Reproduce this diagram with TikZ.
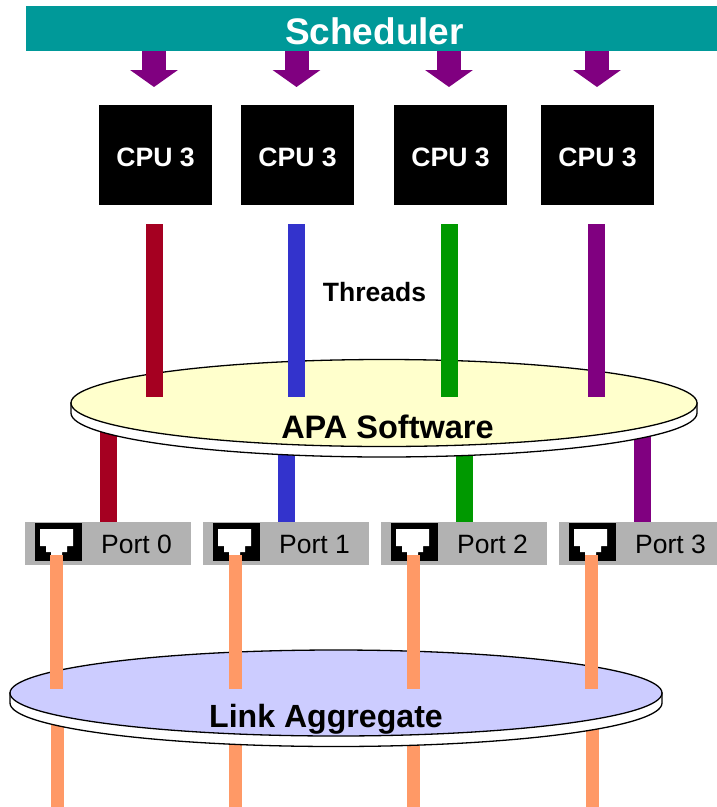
\documentclass[tikz,border=0pt]{standalone}
\usepackage{fontspec}
\setmainfont{Liberation Sans}
\usetikzlibrary{arrows.meta,calc}
\definecolor{teal1}{HTML}{009999}
\definecolor{purp}{HTML}{800080}
\definecolor{red1}{HTML}{A50021}
\definecolor{blue1}{HTML}{3333CC}
\definecolor{green1}{HTML}{009900}
\definecolor{orange1}{HTML}{FF9966}
\definecolor{gray1}{HTML}{B2B2B2}
\definecolor{yellow1}{HTML}{FFFFCC}
\definecolor{lav}{HTML}{CCCCFF}
\tikzset{
 cpu/.style={fill=black,text=white,minimum width=113pt,minimum height=100pt,inner sep=0pt,anchor=north west},
 cputext/.style={text=white,font=\bfseries\fontsize{26.6}{26.6}\selectfont,inner sep=0pt,anchor=base},
 port/.style={fill=gray1,minimum width=166pt,minimum height=43pt,inner sep=0pt,anchor=north west},
 portlabel/.style={font=\fontsize{26.5}{26.5}\selectfont,text=black,inner sep=0pt,anchor=base},
 bar/.style={line width=17pt},
 cable/.style={line width=13pt,orange1},
 sched/.style={draw=purp,line width=24pt,-{Triangle[length=17pt,width=47pt]},shorten >=0pt},
 disctext/.style={font=\bfseries\fontsize{#1}{#1}\selectfont,inner sep=0pt,anchor=base},
 disc/.style={draw=black,line width=1.3pt},
}
\newcommand{\jack}[2]{%
 \fill[black] (#1,#2) rectangle ++(47,37.5);
 \fill[white] (#1+5,#2+6) -- ++(33,0) -- ++(0,17) -- ++(-6,0) -- ++(0,6) -- ++(-5,0) -- ++(0,3) -- ++(-11,0) -- ++(0,-3) -- ++(-5,0) -- ++(0,-6) -- ++(-6,0) -- cycle;
}
\begin{document}
\begin{tikzpicture}[x=1pt,y=-1pt]
\useasboundingbox (0,0) rectangle (717,807);
% scheduler
\node[fill=teal1,minimum width=691pt,minimum height=45pt,inner sep=0pt,anchor=north west] (sch) at (26,6) {};
\node[text=white,font=\bfseries\fontsize{37}{37}\selectfont,inner sep=0pt,anchor=base] (schlabel) at (374.5,44.5) {Scheduler};
% cpus
\foreach \i/\x in {0/99,1/241,2/394,3/541}{
 \node[cpu] (c\i) at (\x,105) {};
 \node[cputext] (cl\i) at (\x+56.5,166) {CPU 3};
}
% scheduler arrows
\foreach \i/\x in {0/154,1/296.5,2/449,3/597}{
 \coordinate (as\i) at (\x,51);
 \coordinate (ae\i) at (\x,87);
 \draw[sched] (as\i) -- (ae\i);
}
% lower thread bars behind disc
\foreach \i/\x/\c/\y in {0/108.5/red1/420,1/286.5/blue1/440,2/464.5/green1/440,3/642.5/purp/420}{
 \coordinate (ls\i) at (\x,\y);
 \coordinate (le\i) at (\x,522);
 \draw[bar,\c] (ls\i) -- (le\i);
}
% apa disc
\draw[disc,fill=white] (71,403) -- (71,413) arc[x radius=313,y radius=44,start angle=180,end angle=0] -- (697,403) -- cycle;
\draw[disc,fill=yellow1] (384,403) ellipse[x radius=313,y radius=43.5];
\node[disctext=32.5] (apa) at (387.5,438) {APA Software};
% upper thread bars
\foreach \i/\x/\c in {0/154.5/red1,1/296.5/blue1,2/449.5/green1,3/596.5/purp}{
 \coordinate (ts\i) at (\x,224);
 \coordinate (te\i) at (\x,397);
 \draw[bar,\c] (ts\i) -- (te\i);
}
\node[font=\bfseries\fontsize{26.5}{26.5}\selectfont,inner sep=0pt,anchor=base] (thr) at (374.5,301) {Threads};
% ports
\foreach \i/\x in {0/25,1/203,2/381,3/559}{
 \node[port] (p\i) at (\x,522) {};
 \jack{\x+10}{523}
 \node[portlabel] (pl\i) at (\x+111.5,553) {Port \i};
}
% lower cables behind disc
\foreach \i/\x in {0/57.5,1/235.5,2/413.5,3/592}{
 \coordinate (ob\i) at (\x,710);
 \coordinate (oe\i) at (\x,807);
 \draw[cable] (ob\i) -- (oe\i);
}
% link disc
\draw[disc,fill=white] (10,693) -- (10,703) arc[x radius=326,y radius=43.5,start angle=180,end angle=0] -- (662,693) -- cycle;
\draw[disc,fill=lav] (336,693) ellipse[x radius=326,y radius=43];
\node[disctext=32.1] (lag) at (326,727) {Link Aggregate};
% upper cables
\foreach \i/\x in {0/56.5,1/235.5,2/413.5,3/591}{
 \coordinate (os\i) at (\x,555);
 \coordinate (of\i) at (\x,689);
 \draw[cable] (os\i) -- (of\i);
}
\end{tikzpicture}
\end{document}
